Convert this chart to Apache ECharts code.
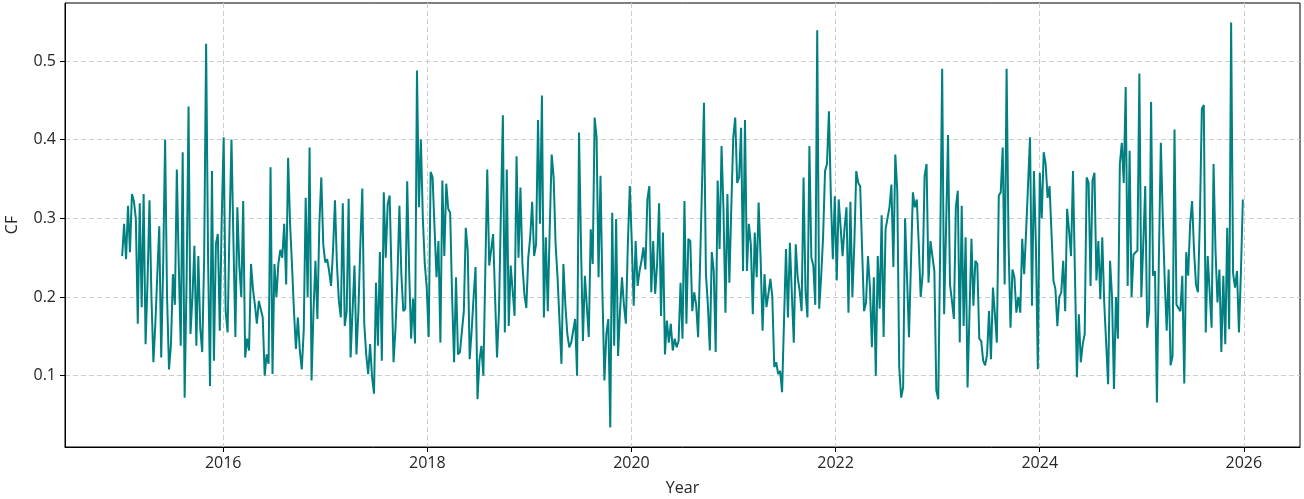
<!DOCTYPE html>
<html>
<head>
<meta charset="utf-8">
<title>CF weekly series</title>
<script src="https://cdn.jsdelivr.net/npm/echarts@6/dist/echarts.min.js"></script>
<style>
  html, body { margin: 0; padding: 0; background: #ffffff; }
  #chart { width: 1304px; height: 499px; }
</style>
</head>
<body>
<div id="chart"></div>
<script>
// Weekly capacity factor, early 2015 through late 2025, in chronological blocks
const cfBlock1 = [0.252,0.293,0.248,0.316,0.257,0.331,0.322,0.30,0.166,0.319,0.187,0.331,0.14,0.22,0.323,0.20,0.117,0.166,0.166,0.29,0.123,0.24,0.40,0.20,0.108,0.14,0.229,0.19,0.362,0.24,0.138,0.384,0.072,0.22,0.442,0.153,0.20,0.265,0.138,0.252,0.16,0.13,0.25,0.522,0.25,0.087];
const cfBlock2 = [0.36,0.119,0.267,0.28,0.157,0.30,0.403,0.182,0.155,0.29,0.40,0.27,0.149,0.314,0.24,0.20,0.322,0.123,0.147,0.132,0.242,0.21,0.19,0.166,0.195,0.195,0.174,0.10,0.127,0.115,0.365,0.102,0.242,0.20,0.242,0.26,0.25,0.293,0.216,0.377,0.293,0.24,0.182,0.134,0.174,0.132,0.108,0.157];
const cfBlock3 = [0.326,0.20,0.39,0.094,0.182,0.246,0.172,0.293,0.352,0.267,0.244,0.248,0.233,0.214,0.259,0.323,0.242,0.195,0.174,0.319,0.163,0.182,0.325,0.123,0.182,0.24,0.127,0.182,0.267,0.338,0.166,0.127,0.102,0.14,0.098,0.077,0.218,0.138,0.257,0.119,0.333,0.25,0.318,0.329,0.225,0.117,0.16,0.225];
const cfBlock4 = [0.316,0.229,0.182,0.185,0.347,0.233,0.147,0.198,0.141,0.488,0.314,0.40,0.30,0.242,0.212,0.149,0.359,0.352,0.288,0.225,0.271,0.142,0.348,0.252,0.344,0.312,0.307,0.20,0.117,0.225,0.127,0.13,0.132,0.182,0.288,0.259,0.121,0.157,0.20,0.238,0.07,0.119,0.138,0.10,0.233,0.362,0.24,0.242,0.28];
const cfBlock5 = [0.20,0.123,0.182,0.31,0.431,0.155,0.362,0.163,0.24,0.238,0.176,0.379,0.25,0.339,0.242,0.204,0.186,0.25,0.276,0.321,0.252,0.267,0.425,0.293,0.456,0.174,0.276,0.182,0.288,0.381,0.352,0.267,0.225,0.17,0.115,0.242,0.19,0.153,0.136,0.142,0.142,0.172,0.10,0.409,0.267,0.144,0.227,0.225,0.149];
const cfBlock6 = [0.286,0.242,0.428,0.403,0.225,0.354,0.204,0.094,0.153,0.172,0.034,0.307,0.138,0.299,0.125,0.182,0.225,0.19,0.166,0.267,0.341,0.271,0.189,0.271,0.214,0.233,0.246,0.263,0.235,0.324,0.341,0.206,0.271,0.204,0.242,0.319,0.176,0.282,0.127,0.17,0.142,0.166,0.132,0.147,0.136,0.144,0.218,0.147,0.322];
const cfBlock7 = [0.166,0.274,0.271,0.182,0.206,0.19,0.149,0.242,0.343,0.447,0.229,0.19,0.132,0.257,0.233,0.13,0.348,0.261,0.392,0.31,0.18,0.331,0.218,0.314,0.403,0.428,0.345,0.352,0.415,0.233,0.425,0.233,0.293,0.267,0.178,0.282,0.225,0.32,0.25,0.157,0.229,0.187,0.204,0.223,0.20,0.111,0.117,0.102];
const cfBlock8 = [0.106,0.079,0.17,0.261,0.174,0.269,0.204,0.142,0.267,0.225,0.208,0.182,0.352,0.208,0.174,0.392,0.25,0.24,0.19,0.539,0.185,0.225,0.276,0.36,0.369,0.436,0.326,0.248,0.328,0.221,0.324,0.323,0.252,0.288,0.314,0.18,0.321,0.20,0.267,0.36,0.345,0.341,0.259,0.182,0.193,0.252,0.212,0.136,0.225];
const cfBlock9 = [0.10,0.252,0.185,0.304,0.149,0.286,0.288,0.314,0.343,0.238,0.381,0.335,0.111,0.072,0.085,0.30,0.225,0.149,0.242,0.333,0.314,0.324,0.267,0.20,0.229,0.354,0.369,0.218,0.271,0.271,0.233,0.081,0.07,0.267,0.49,0.178,0.288,0.406,0.216,0.195,0.172,0.314,0.335,0.142,0.316,0.163,0.276,0.085];
const cfBlock10 = [0.18,0.274,0.189,0.246,0.242,0.147,0.144,0.119,0.113,0.127,0.182,0.121,0.212,0.178,0.142,0.329,0.333,0.39,0.216,0.49,0.267,0.161,0.235,0.225,0.18,0.20,0.18,0.274,0.229,0.284,0.286,0.403,0.189,0.36,0.267,0.108,0.358,0.30,0.384,0.369,0.326,0.341,0.343,0.221,0.21,0.163,0.20,0.206,0.246];
const cfBlock11 = [0.182,0.312,0.284,0.252,0.36,0.23,0.098,0.178,0.117,0.14,0.153,0.352,0.345,0.214,0.348,0.358,0.221,0.271,0.197,0.276,0.193,0.193,0.089,0.246,0.20,0.083,0.20,0.147,0.369,0.396,0.345,0.467,0.214,0.386,0.20,0.254,0.254,0.259,0.484,0.20,0.267,0.341,0.161,0.182,0.448,0.227,0.233,0.066];
const cfBlock12 = [0.25,0.396,0.30,0.22,0.157,0.235,0.113,0.125,0.413,0.19,0.19,0.182,0.227,0.09,0.257,0.227,0.293,0.322,0.259,0.216,0.206,0.30,0.439,0.444,0.155,0.252,0.25,0.161,0.369,0.259,0.193,0.235,0.13,0.227,0.14,0.288,0.159,0.549,0.23,0.212,0.233,0.155,0.23,0.324];

// Time span of the series (decimal years) and axis tick labels
const seriesStartYear = 2015.01;
const seriesEndYear = 2025.99;
const yearTicks = [2016, 2018, 2020, 2022, 2024, 2026];
const cfTicks = [0.1, 0.2, 0.3, 0.4, 0.5];

const cfValues = [].concat(cfBlock1, cfBlock2, cfBlock3, cfBlock4, cfBlock5, cfBlock6,
  cfBlock7, cfBlock8, cfBlock9, cfBlock10, cfBlock11, cfBlock12);

// Samples are evenly spaced (weekly) across the span
const step = (seriesEndYear - seriesStartYear) / (cfValues.length - 1);
const points = cfValues.map((v, i) => [seriesStartYear + i * step, v]);

const FONT = '"Open Sans", "DejaVu Sans", sans-serif';
const TEXT = '#262626';
const gridLine = { show: true, lineStyle: { color: '#cccccc', type: [5, 3], width: 1 } };

const chart = echarts.init(document.getElementById('chart'), null, { renderer: 'canvas' });
chart.setOption({
  animation: false,
  backgroundColor: '#ffffff',
  grid: {
    left: 65, right: 4, top: 3, bottom: 52,
    outerBoundsMode: 'none',
    containLabel: false,
    show: true, borderColor: '#000000', borderWidth: 1, backgroundColor: 'transparent'
  },
  xAxis: {
    type: 'value',
    min: 2014.45,
    max: 2026.55,
    name: 'Year',
    nameLocation: 'middle',
    nameGap: 33,
    nameTextStyle: { fontFamily: FONT, fontSize: 16, color: TEXT },
    axisLine: { show: true, lineStyle: { color: '#000000', width: 1 } },
    axisTick: { show: true, customValues: yearTicks, length: 5, lineStyle: { color: '#000000' } },
    axisLabel: {
      customValues: yearTicks,
      fontFamily: FONT, fontSize: 16, color: TEXT, margin: 8,
      formatter: v => String(Math.round(v))
    },
    splitLine: gridLine
  },
  yAxis: {
    type: 'value',
    min: 0.0093,
    max: 0.5737,
    name: 'CF',
    nameLocation: 'middle',
    nameGap: 45,
    nameRotate: 90,
    nameTextStyle: { fontFamily: FONT, fontSize: 16, color: TEXT },
    axisLine: { show: true, lineStyle: { color: '#000000', width: 1 } },
    axisTick: { show: true, customValues: cfTicks, length: 5, lineStyle: { color: '#000000' } },
    axisLabel: {
      customValues: cfTicks,
      fontFamily: FONT, fontSize: 16, color: TEXT, margin: 9,
      formatter: v => v.toFixed(1)
    },
    splitLine: gridLine
  },
  series: [{
    type: 'line',
    data: points,
    showSymbol: false,
    symbol: 'none',
    lineStyle: { color: '#008080', width: 2 },
    itemStyle: { color: '#008080' }
  }]
});
</script>
</body>
</html>
